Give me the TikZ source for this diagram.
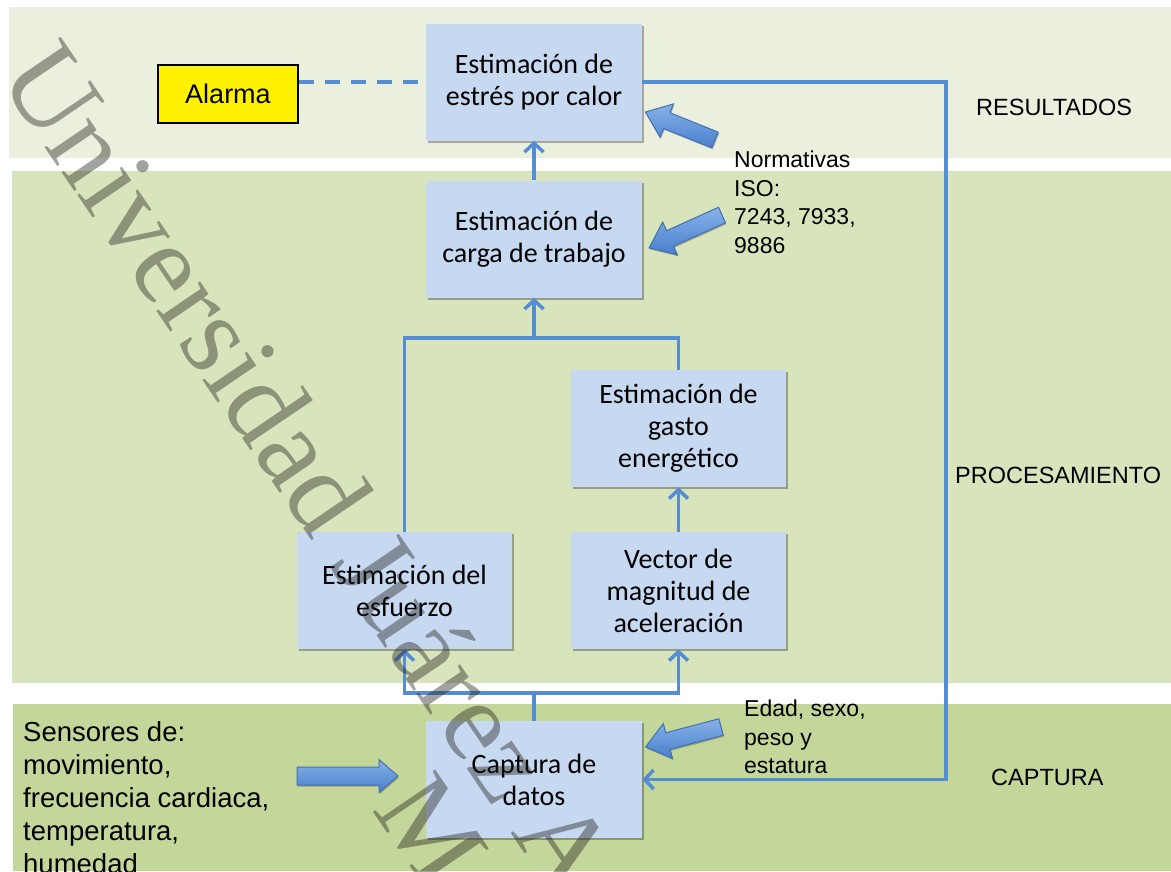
\documentclass[tikz,border=0pt]{standalone}
\usepackage{fontspec}
\setmainfont{Carlito}
\newfontfamily\arialf{Liberation Sans}
\newfontfamily\timesf{Liberation Serif}
\usetikzlibrary{arrows.meta,shadows,calc}
\definecolor{bandA}{RGB}{235,240,222}
\definecolor{bandB}{RGB}{216,228,188}
\definecolor{bandC}{RGB}{196,215,155}
\definecolor{boxblue}{RGB}{198,217,241}
\definecolor{lineblue}{RGB}{84,141,212}
\definecolor{arrlight}{RGB}{135,178,232}
\definecolor{arrdark}{RGB}{72,127,204}
\definecolor{arredge}{RGB}{66,112,178}
\definecolor{wmgray}{RGB}{35,35,30}
\newcommand\blockarrow[6]{%
  \begin{scope}[shift={(#1)}, rotate=#2]
    \path[barrow] (0,{#4/2}) -- ({#3-#6},{#4/2}) -- ({#3-#6},{#5/2}) -- (#3,0)
      -- ({#3-#6},{-#5/2}) -- ({#3-#6},{-#4/2}) -- (0,{-#4/2}) -- cycle;
  \end{scope}}
\tikzset{
  box/.style={fill=boxblue, minimum width=216pt, minimum height=117pt, inner sep=0pt,
    align=center, font={\fontsize{28pt}{32pt}\selectfont},
    drop shadow={shadow xshift=1.5pt, shadow yshift=-2pt, opacity=0.3, fill=black}},
  conn/.style={draw=lineblue, line width=3.5pt},
  tip/.style={-{Straight Barb[length=9pt,width=19pt]}},
  lab/.style={inner sep=0pt, align=left, font={\arialf\fontsize{23pt}{28.5pt}\selectfont}},
  band/.style={inner sep=0pt, font={\arialf\fontsize{23.5pt}{28pt}\selectfont}},
  barrow/.style={draw=arredge, line width=1pt, top color=arrlight, bottom color=arrdark,
    drop shadow={shadow xshift=1pt, shadow yshift=-1.5pt, opacity=0.25, fill=black}},
  wm/.style={inner sep=0pt, text=wmgray, text opacity=0.42, font={\timesf\fontsize{115pt}{132pt}\selectfont}}
}
\begin{document}
\begin{tikzpicture}[x=1pt,y=-1pt]
\useasboundingbox (0,0) rectangle (1171,871);
\clip (0,0) rectangle (1171,871);
\fill[white] (0,0) rectangle (1171,871);
% bands
\fill[bandA] (9,7) rectangle (1171,158);
\fill[bandB] (12,171) rectangle (1171,683);
\fill[bandC] (13,704) rectangle (1171,871);
% band labels
\node[band, anchor=base west] (resultados) at (976,115) {RESULTADOS};
\node[band, anchor=base west] (procesamiento) at (955,483) {PROCESAMIENTO};
\node[band, anchor=base west] (captura-lab) at (991,785) {CAPTURA};
% boxes
\node[box] (estres) at (534,82) {Estimación de\\estrés por calor};
\node[box] (carga) at (534,239) {Estimación de\\carga de trabajo};
\node[box, minimum width=215pt] (gasto) at (678.5,428.5) {Estimación de\\gasto\\energético};
\node[box, minimum width=215pt] (esfuerzo) at (404.5,590.5) {Estimación del\\esfuerzo};
\node[box, minimum width=215pt] (vector) at (678.5,590.5) {Vector de\\magnitud de\\aceleración};
\node[box] (captura) at (534,779.5) {Captura de\\datos};
\node[fill=yellow, draw=black, line width=1.5pt, minimum width=140pt, minimum height=58pt,
  inner sep=0pt, font={\arialf\fontsize{27pt}{30pt}\selectfont}] (alarma) at (228,94) {Alarma};
% connectors
\coordinate (merge) at (534,338);
\coordinate (split) at (534,693);
\coordinate (fbx) at (946,0);
\draw[conn, dash pattern=on 15pt off 11pt] (alarma.east |- estres.west) -- (estres.west);
\draw[conn, tip] (carga.north) -- (estres.south);
\draw[conn] (esfuerzo.north) |- (merge) -| (gasto.north);
\draw[conn, tip] (merge) -- (carga.south);
\draw[conn, tip] (vector.north) -- (gasto.south);
\draw[conn] (captura.north) -- (split);
\draw[conn, tip] (split) -| (esfuerzo.south);
\draw[conn, tip] (split) -| (vector.south);
\draw[conn, tip] (estres.east) -- (estres.east -| fbx) -- (captura.east -| fbx) -- (captura.east);
% side labels
\node[lab, anchor=north west] (normas) at (734,151) {Normativas\\ISO:\\7243, 7933,\\9886};
\node[lab, anchor=north west] (edad) at (744,700) {Edad, sexo,\\peso y\\estatura};
\node[lab, anchor=north west, font={\arialf\fontsize{27.5pt}{33pt}\selectfont}] (sensores) at (23,721)
  {Sensores de:\\movimiento,\\frecuencia cardiaca,\\temperatura,\\humedad};
% block arrows
\coordinate (a1) at (715,140);
\coordinate (a2) at (722,215);
\coordinate (a3) at (721,727);
\coordinate (a4) at (297,776);
\blockarrow{a1}{158.1}{75}{17}{36}{23}
\blockarrow{a2}{204.3}{80}{17}{36}{23}
\blockarrow{a3}{194.8}{78}{17}{36}{23}
\blockarrow{a4}{0}{101}{18}{33}{19}
% watermark
\node[wm, anchor=base west, rotate=-55.8] (wm1) at (-3,77) {Universidad Juárez Autónoma de Tabasco};
\node[wm, anchor=base, rotate=-55.8] (wm2) at (470,955) {México};
\end{tikzpicture}
\end{document}
